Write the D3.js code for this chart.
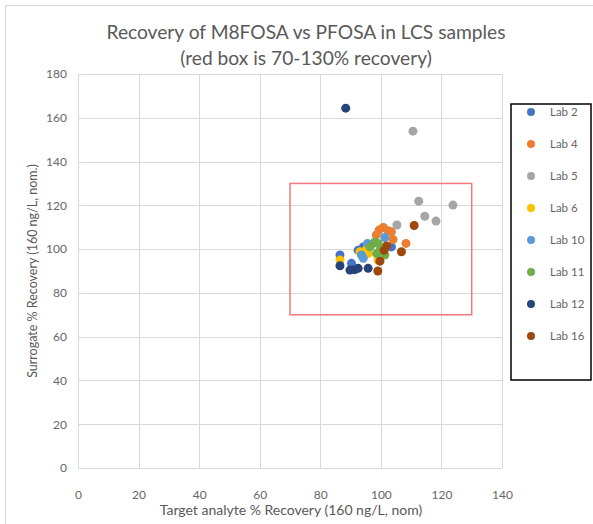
<!DOCTYPE html>
<html>
<head>
<meta charset="utf-8">
<script src="https://cdn.jsdelivr.net/npm/d3@7"></script>
<style>
body{margin:0;background:#fff;}
text{font-family:Lato,"Open Sans",sans-serif;fill:#595959;}
</style>
</head>
<body>
<div id="chart"></div>
<script>
var labNames=["Lab 2","Lab 4","Lab 5","Lab 6","Lab 10","Lab 11","Lab 12","Lab 16"];
var labColors=["#4472C4","#ED7D31","#A5A5A5","#FFC000","#5B9BD5","#70AD47","#264478","#9E480E"];

// [target %, surrogate %]
var lab2=[[94.2,101.0],[86.5,97.3],[90.3,93.5],[103.5,101.0],[92.5,99.5]];
var lab4=[[99.4,108.7],[100.8,109.9],[102.4,108.4],[103.5,107.9],[104.0,104.4],[108.3,102.6],[98.5,106.5]];
var lab5=[[110.6,153.9],[112.5,121.9],[123.8,120.1],[114.5,115.0],[118.2,112.8],[105.3,111.0]];
var lab6=[[93.1,98.8],[95.8,98.0],[86.5,95.0],[99.1,95.0],[95.5,100.5]];
var lab10=[[101.3,105.3],[97.5,102.6],[93.6,97.3],[94.2,95.8],[95.6,102.6]];
var lab11=[[98.0,103.3],[99.1,102.6],[99.7,99.5],[101.3,97.3],[98.6,98.0],[96.4,101.0]];
var lab12=[[88.4,164.4],[86.5,92.4],[89.8,90.4],[92.5,91.2],[95.8,91.2],[91.4,90.6]];
var lab16=[[111.0,110.8],[101.9,101.4],[101.1,99.5],[106.8,98.8],[99.7,94.5],[99.0,90.0]];
var labData=[lab2,lab4,lab5,lab6,lab10,lab11,lab12,lab16];

var xTicks=[0,20,40,60,80,100,120,140];
var yTicks=[0,20,40,60,80,100,120,140,160,180];
var boxRange=[70,130];

var iWidth=593, iHeight=524;
var myMargin={left:78,right:91,top:74,bottom:56};

var mySvg=d3.select("#chart").append("svg")
	.attr("width",iWidth)
	.attr("height",iHeight);

// outer chart frame
mySvg.append("rect")
	.attr("x",5.5).attr("y",5.5)
	.attr("width",iWidth+10).attr("height",iHeight+10)
	.attr("fill","none").attr("stroke","#d9d9d9");

var xScale=d3.scaleLinear().domain([0,140]).range([myMargin.left,iWidth-myMargin.right]);
var yScale=d3.scaleLinear().domain([0,180]).range([iHeight-myMargin.bottom,myMargin.top]);

var myGrid=mySvg.append("g");
myGrid.selectAll(".vgrid").data(xTicks).enter().append("line")
	.attr("x1",function(d){return Math.round(xScale(d))+0.5;})
	.attr("x2",function(d){return Math.round(xScale(d))+0.5;})
	.attr("y1",yScale(0)).attr("y2",yScale(180))
	.attr("stroke","#d9d9d9").attr("stroke-width",1);
myGrid.selectAll(".hgrid").data(yTicks).enter().append("line")
	.attr("y1",function(d){return Math.round(yScale(d))+0.5;})
	.attr("y2",function(d){return Math.round(yScale(d))+0.5;})
	.attr("x1",xScale(0)).attr("x2",xScale(140))
	.attr("stroke","#d9d9d9").attr("stroke-width",1);

// axes (labels only)
var xAxis=mySvg.append("g")
	.attr("transform","translate(0,"+(yScale(0)+22)+")")
	.call(d3.axisBottom(xScale).tickValues(xTicks).tickSize(0).tickPadding(0));
xAxis.select(".domain").remove();
xAxis.selectAll("text").attr("font-size",12).style("fill","#666").style("font-family","Lato");

var yAxis=mySvg.append("g")
	.attr("transform","translate("+(xScale(0)-11)+",0)")
	.call(d3.axisLeft(yScale).tickValues(yTicks).tickSize(0).tickPadding(0));
yAxis.select(".domain").remove();
yAxis.selectAll("text").attr("font-size",12).style("fill","#666").style("font-family","Lato");

// red 70-130% box
mySvg.append("rect")
	.attr("x",xScale(boxRange[0])).attr("y",yScale(boxRange[1]))
	.attr("width",xScale(boxRange[1])-xScale(boxRange[0]))
	.attr("height",yScale(boxRange[0])-yScale(boxRange[1]))
	.attr("fill","none").attr("stroke","#F4777F").attr("stroke-width",1.5);

// points
var myPoints=mySvg.append("g");
labData.forEach(function(aSeries,i){
	myPoints.selectAll(".pt"+i).data(aSeries).enter().append("circle")
		.attr("cx",function(d){return xScale(d[0]);})
		.attr("cy",function(d){return yScale(d[1]);})
		.attr("r",4.5)
		.attr("fill",labColors[i]);
});

// titles
mySvg.append("text").attr("x",306).attr("y",39).attr("text-anchor","middle")
	.attr("font-size",19.2).text("Recovery of M8FOSA vs PFOSA in LCS samples");
mySvg.append("text").attr("x",306).attr("y",65).attr("text-anchor","middle")
	.attr("font-size",19.2).text("(red box is 70-130% recovery)");
mySvg.append("text").attr("x",291).attr("y",515).attr("text-anchor","middle")
	.attr("font-size",14).text("Target analyte % Recovery (160 ng/L, nom)");
mySvg.append("text").attr("transform","translate(37,271) rotate(-90)").attr("text-anchor","middle")
	.attr("font-size",12.5).text("Surrogate % Recovery (160 ng/L, nom.)");

// legend
var myLegend=mySvg.append("g");
myLegend.append("rect").attr("x",511).attr("y",104).attr("width",80).attr("height",276)
	.attr("fill","#fff").attr("stroke","#000").attr("stroke-width",1.5);
var legItems=myLegend.selectAll(".leg").data(labNames).enter().append("g")
	.attr("transform",function(d,i){return "translate(531,"+(112+i*32)+")";});
legItems.append("circle").attr("r",4).attr("fill",function(d,i){return labColors[i];});
legItems.append("text").attr("x",19).attr("y",4).attr("font-size",11.5).style("fill","#666").text(function(d){return d;});
</script>
</body>
</html>
